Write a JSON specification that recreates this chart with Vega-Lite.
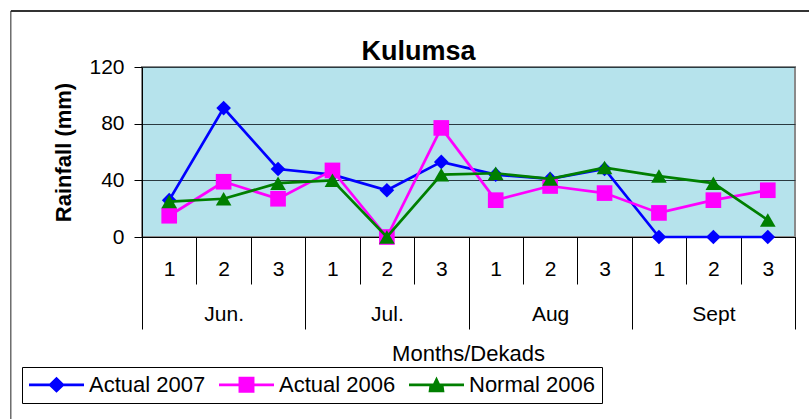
{"$schema":"https://vega.github.io/schema/vega-lite/v6.json","width":653,"height":170,"autosize":"none","padding":{"left":142,"top":67,"right":14,"bottom":182},"background":"white",
"title":{"text":"Kulumsa","font":"Liberation Sans","fontSize":27,"fontWeight":"bold","color":"#000","anchor":"middle","dx":-50,"offset":-56},
"config":{"font":"Liberation Sans","view":{"fill":"#b6e3ec","stroke":"#8a8a8a","strokeWidth":2}},
"datasets":{"rain":[
{"position":0.5,"series":"Actual 2007","rain":26},{"position":1.5,"series":"Actual 2007","rain":91},{"position":2.5,"series":"Actual 2007","rain":48},{"position":3.5,"series":"Actual 2007","rain":44},{"position":4.5,"series":"Actual 2007","rain":33},{"position":5.5,"series":"Actual 2007","rain":53},{"position":6.5,"series":"Actual 2007","rain":44},{"position":7.5,"series":"Actual 2007","rain":41},{"position":8.5,"series":"Actual 2007","rain":48},{"position":9.5,"series":"Actual 2007","rain":0},{"position":10.5,"series":"Actual 2007","rain":0},{"position":11.5,"series":"Actual 2007","rain":0},
{"position":0.5,"series":"Actual 2006","rain":15},{"position":1.5,"series":"Actual 2006","rain":39},{"position":2.5,"series":"Actual 2006","rain":27},{"position":3.5,"series":"Actual 2006","rain":47},{"position":4.5,"series":"Actual 2006","rain":0},{"position":5.5,"series":"Actual 2006","rain":77},{"position":6.5,"series":"Actual 2006","rain":26},{"position":7.5,"series":"Actual 2006","rain":36},{"position":8.5,"series":"Actual 2006","rain":31},{"position":9.5,"series":"Actual 2006","rain":17},{"position":10.5,"series":"Actual 2006","rain":26},{"position":11.5,"series":"Actual 2006","rain":33},
{"position":0.5,"series":"Normal 2006","rain":25},{"position":1.5,"series":"Normal 2006","rain":27},{"position":2.5,"series":"Normal 2006","rain":38},{"position":3.5,"series":"Normal 2006","rain":40},{"position":4.5,"series":"Normal 2006","rain":0},{"position":5.5,"series":"Normal 2006","rain":44},{"position":6.5,"series":"Normal 2006","rain":45},{"position":7.5,"series":"Normal 2006","rain":41},{"position":8.5,"series":"Normal 2006","rain":49},{"position":9.5,"series":"Normal 2006","rain":43},{"position":10.5,"series":"Normal 2006","rain":38},{"position":11.5,"series":"Normal 2006","rain":12}
]},
"resolve":{"axis":{"x":"independent"}},
"layer":[
{"data":{"values":[{"x":-2.41,"x2":12.3,"y":159.5}]},"mark":{"type":"rule","color":"#333","strokeWidth":2},"encoding":{"x":{"field":"x","type":"quantitative","axis":null,"scale":{"domain":[0,12],"nice":false,"zero":false}},"x2":{"field":"x2"},"y":{"field":"y","type":"quantitative","scale":{"domain":[0,120],"nice":false},"axis":{"values":[0,40,80,120],"grid":true,"gridColor":"#2a3a40","gridWidth":1,"domainColor":"#000","tickColor":"#000","tickSize":8,"labelFont":"Liberation Sans","labelFontSize":21,"labelColor":"#000","labelPadding":10,"title":"Rainfall (mm)","titleFont":"Liberation Sans","titleFontSize":22,"titleFontWeight":"bold","titleColor":"#000","titlePadding":13}}}},
{"data":{"values":[{"x":-2.41,"y":159.5,"y2":-129}]},"mark":{"type":"rule","color":"#222","strokeWidth":1},"encoding":{"x":{"field":"x","type":"quantitative","axis":null},"y":{"field":"y","type":"quantitative"},"y2":{"field":"y2"}}},
{"data":{"name":"rain"},"transform":[{"filter":"datum.series==='Actual 2007'"}],"mark":{"type":"line","strokeWidth":2.7},"encoding":{
 "x":{"field":"position","type":"quantitative","axis":{"orient":"bottom","values":[0,1,2,3,4,5,6,7,8,9,10,11,12],"tickSize":47,"tickColor":"#000","domainColor":"#000","labels":false,"title":null,"grid":false}},
 "y":{"field":"rain","type":"quantitative"},
 "color":{"field":"series","type":"nominal","scale":{"domain":["Actual 2007","Actual 2006","Normal 2006"],"range":["#0000ff","#ff00ff","#007f00"]},"legend":{"orient":"none","legendX":-120,"legendY":300,"direction":"horizontal","columns":3,"title":null,"fillColor":"#fff","strokeColor":"#000","padding":7,"labelFont":"Liberation Sans","labelFontSize":22,"labelColor":"#000","labelOffset":5,"columnPadding":13,"symbolSize":3025,"clipHeight":21,"symbolStrokeWidth":0,"symbolOpacity":1,"encode":{"symbols":{"update":{"size":{"value":3025},"strokeWidth":{"value":0},"fill":{"signal":"datum.value==='Actual 2007'?'#0000ff':datum.value==='Actual 2006'?'#ff00ff':'#007f00'"},"shape":{"signal":"datum.value==='Actual 2007'?'M-1 -0.05L-0.25 -0.05L0 -0.29L0.25 -0.05L1 -0.05L1 0.05L0.25 0.05L0 0.29L-0.25 0.05L-1 0.05Z':datum.value==='Actual 2006'?'M-1 -0.05L-0.29 -0.05L-0.29 -0.29L0.29 -0.29L0.29 -0.05L1 -0.05L1 0.05L0.29 0.05L0.29 0.29L-0.29 0.29L-0.29 0.05L-1 0.05Z':'M-1 -0.05L-0.12 -0.05L0 -0.3L0.12 -0.05L1 -0.05L1 0.05L0.26 0.05L0.29 0.27L-0.29 0.27L-0.26 0.05L-1 0.05Z'"}}}}}}}},
{"data":{"name":"rain"},"transform":[{"filter":"datum.series==='Actual 2007'"}],"mark":{"type":"point","filled":true,"opacity":1,"size":215,"shape":"diamond"},"encoding":{
 "x":{"field":"position","type":"quantitative","axis":{"orient":"bottom","values":[0,3,6,9,12],"tickSize":92,"tickColor":"#000","domain":false,"labels":false,"title":null,"grid":false}},
 "y":{"field":"rain","type":"quantitative"},
 "color":{"field":"series","type":"nominal","legend":null}}},
{"data":{"name":"rain"},"transform":[{"filter":"datum.series==='Actual 2006'"}],"mark":{"type":"line","strokeWidth":2.7},"encoding":{
 "x":{"field":"position","type":"quantitative","axis":{"orient":"bottom","values":[0.5,1.5,2.5,3.5,4.5,5.5,6.5,7.5,8.5,9.5,10.5,11.5],"ticks":false,"domain":false,"grid":false,"labelExpr":"floor(datum.value)%3+1","labelFont":"Liberation Sans","labelFontSize":21,"labelColor":"#000","labelPadding":21,"labelFlush":false,"labelOverlap":false,"title":null}},
 "y":{"field":"rain","type":"quantitative"},"color":{"field":"series","type":"nominal","legend":null}}},
{"data":{"name":"rain"},"transform":[{"filter":"datum.series==='Actual 2006'"}],"mark":{"type":"point","filled":true,"opacity":1,"size":245,"shape":"square"},"encoding":{
 "x":{"field":"position","type":"quantitative","axis":{"orient":"bottom","values":[1.5,4.5,7.5,10.5],"ticks":false,"domain":false,"grid":false,"labelExpr":"datum.value<3?'Jun.':datum.value<6?'Jul.':datum.value<9?'Aug':'Sept'","labelFont":"Liberation Sans","labelFontSize":21,"labelColor":"#000","labelPadding":66,"labelFlush":false,"title":"Months/Dekads","titleFont":"Liberation Sans","titleFontSize":22,"titleFontWeight":"normal","titleColor":"#000","titleX":326,"titleY":116,"titleBaseline":"middle"}},
 "y":{"field":"rain","type":"quantitative"},"color":{"field":"series","type":"nominal","legend":null}}},
{"data":{"name":"rain"},"transform":[{"filter":"datum.series==='Normal 2006'"}],"mark":{"type":"line","strokeWidth":2.7},"encoding":{
 "x":{"field":"position","type":"quantitative","axis":null},"y":{"field":"rain","type":"quantitative"},"color":{"field":"series","type":"nominal","legend":null}}},
{"data":{"name":"rain"},"transform":[{"filter":"datum.series==='Normal 2006'"}],"mark":{"type":"point","filled":true,"opacity":1,"size":245,"shape":"triangle-up"},"encoding":{
 "x":{"field":"position","type":"quantitative","axis":null},"y":{"field":"rain","type":"quantitative"},"color":{"field":"series","type":"nominal","legend":null}}}
]}
